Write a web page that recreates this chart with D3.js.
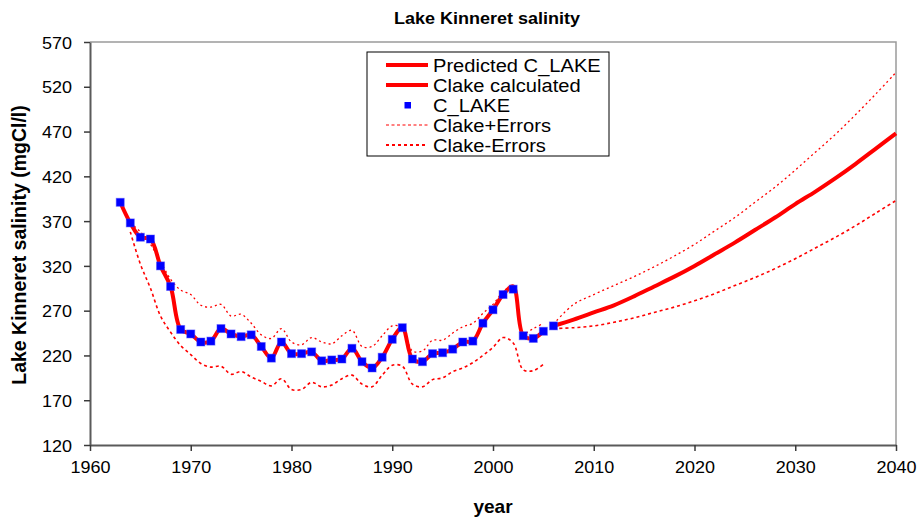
<!DOCTYPE html>
<html>
<head>
<meta charset="utf-8">
<script src="https://cdn.jsdelivr.net/npm/d3@7"></script>
<style>
  body { margin: 0; background: #fff; }
  text { font-family: "Liberation Sans", Arial, sans-serif; fill: #000; }
</style>
</head>
<body>
<svg id="chart" width="922" height="517"></svg>
<script>
// ---- data ----
// measured lake salinity (mgCl/l), 1963-2006
const obsYears = d3.range(1963, 2007);
const cLake = [391, 368, 352, 350, 320, 297, 249, 244, 235, 236,
               250, 244, 241, 243, 230, 217, 235, 222, 222, 224,
               214, 215, 216, 228, 213, 206, 218, 238, 251, 216,
               213, 222, 223, 227, 235, 236, 256, 271, 288, 294,
               242, 239, 247, 253];

// model-calculated salinity, 1963-2005
const calcYears = d3.range(1963, 2006);
const clakeCalc = [391, 368, 352, 350, 320, 297, 249, 244, 235, 236,
                   250, 244, 241, 243, 230, 217, 235, 222, 222, 224,
                   214, 215, 216, 228, 213, 206, 218, 238, 251, 216,
                   213, 222, 223, 227, 235, 236, 256, 271, 288, 297,
                   242, 239, 247];

// error envelope of the calculation, 1964-2005
const errYears = d3.range(1964, 2006);
const clakePlus = [368, 358, 344, 325, 305, 293, 288, 276, 274, 277,
                   264, 266, 256, 243, 239, 250, 235, 232, 240, 235,
                   233, 242, 248, 230, 230, 242, 253, 251, 225, 225,
                   237, 237, 245, 252, 256, 267, 277, 291, 297, 245,
                   250, 256];
const clakeMinus = [358, 322, 295, 264, 246, 231, 221, 211, 207, 208,
                    199, 202, 196, 191, 186, 194, 182, 182, 190, 185,
                    187, 194, 198, 188, 185, 198, 209, 208, 188, 185,
                    193, 195, 202, 206, 212, 220, 229, 240, 234, 204,
                    203, 210];

// prediction 2006-2040 with its error envelope
const predYears = d3.range(2006, 2041, 2);
const predicted = [253, 260, 268, 276, 286, 297, 308, 320, 333, 346,
                   360, 374, 389, 403, 418, 434, 451, 468];
const predPlus  = [255, 277, 288, 298, 308, 319, 331, 344, 359, 374,
                   391, 408, 427, 447, 467, 489, 512, 536];
const predMinus = [250, 251, 253, 257, 262, 268, 274, 281, 289, 298,
                   307, 317, 328, 340, 352, 365, 379, 393];

const yTicks = [120, 170, 220, 270, 320, 370, 420, 470, 520, 570];
const xTicks = [1960, 1970, 1980, 1990, 2000, 2010, 2020, 2030, 2040];

const legendItems = [
  { label: "Predicted C_LAKE", kind: "thick" },
  { label: "Clake calculated", kind: "thick" },
  { label: "C_LAKE", kind: "marker" },
  { label: "Clake+Errors", kind: "plus" },
  { label: "Clake-Errors", kind: "minus" }
];

// ---- layout ----
const SX = 1.06;            // slight horizontal glyph stretch
const RED = "#ff0000", BLUE = "#0000ff";
const svg = d3.select("#chart");
const plot = { left: 90, right: 896, top: 42, bottom: 445 };

const x = d3.scaleLinear().domain([1960, 2040]).range([plot.left, plot.right]);
const y = d3.scaleLinear().domain([120, 570]).range([plot.bottom, plot.top]);

const pts = (xs, vs) => xs.map((t, i) => [t, vs[i]]);
const line = d3.line().x(d => x(d[0])).y(d => y(d[1])).curve(d3.curveCatmullRom.alpha(0.5));

// plot frame (top & right)
svg.append("path")
  .attr("d", `M${plot.left},${plot.top}H${plot.right}V${plot.bottom}`)
  .attr("fill", "none").attr("stroke", "#9a9a9a").attr("stroke-width", 1.5);

// axes
const yAxis = svg.append("g")
  .attr("transform", `translate(${plot.left},0)`)
  .call(d3.axisLeft(y).tickValues(yTicks).tickSize(6).tickSizeOuter(0).tickFormat(d3.format("d")));
const xAxis = svg.append("g")
  .attr("transform", `translate(0,${plot.bottom})`)
  .call(d3.axisBottom(x).tickValues(xTicks).tickSize(6).tickSizeOuter(0).tickFormat(d3.format("d")));

[yAxis, xAxis].forEach(g => {
  g.select(".domain").attr("stroke", "#5a5a5a").attr("stroke-width", 2);
  g.selectAll(".tick line").attr("stroke", "#3a3a3a").attr("stroke-width", 1.5);
  g.selectAll(".tick text")
    .attr("font-family", "Liberation Sans, Arial, sans-serif")
    .attr("font-size", 17).attr("fill", "#000");
});
yAxis.selectAll(".tick text").attr("x", -18 / SX).attr("dy", "0.36em")
  .attr("transform", `scale(${SX},1)`);
xAxis.selectAll(".tick text").attr("y", 16).attr("transform", `scale(${SX},1)`);

// error envelope lines
const plusStyle = s => s.attr("fill", "none").attr("stroke", RED)
  .attr("stroke-width", 1.3).attr("stroke-dasharray", "2,3");
const minusStyle = s => s.attr("fill", "none").attr("stroke", RED)
  .attr("stroke-width", 1.6).attr("stroke-dasharray", "3,3");

svg.append("path").attr("d", line(pts(errYears, clakePlus))).call(plusStyle);
svg.append("path").attr("d", line(pts(errYears, clakeMinus))).call(minusStyle);
svg.append("path").attr("d", line(pts(predYears, predPlus))).call(plusStyle);
svg.append("path").attr("d", line(pts(predYears, predMinus))).call(minusStyle);

// calculated and predicted salinity
svg.append("path").attr("d", line(pts(calcYears, clakeCalc)))
  .attr("fill", "none").attr("stroke", RED).attr("stroke-width", 4).attr("stroke-linejoin", "round");
svg.append("path").attr("d", line(pts(predYears, predicted)))
  .attr("fill", "none").attr("stroke", RED).attr("stroke-width", 4).attr("stroke-linejoin", "round");

// measured points
const M = 8;
svg.append("g").selectAll("rect").data(pts(obsYears, cLake)).join("rect")
  .attr("x", d => x(d[0]) - M / 2).attr("y", d => y(d[1]) - M / 2)
  .attr("width", M).attr("height", M)
  .attr("fill", BLUE).attr("stroke", "rgba(60,60,255,0.45)").attr("stroke-width", 1);

// title
svg.append("text")
  .attr("transform", `translate(487,24) scale(${SX},1)`)
  .attr("text-anchor", "middle").attr("font-weight", "bold").attr("font-size", 17)
  .text("Lake Kinneret salinity");

// axis titles
svg.append("text")
  .attr("transform", `translate(493,513) scale(${SX},1)`)
  .attr("text-anchor", "middle").attr("font-weight", "bold").attr("font-size", 18)
  .text("year");
svg.append("text")
  .attr("transform", `translate(26,245) rotate(-90)`)
  .attr("text-anchor", "middle").attr("font-weight", "bold").attr("font-size", 19.5)
  .text("Lake Kinneret salinity (mgCl/l)");

// legend
const lg = svg.append("g");
lg.append("rect").attr("x", 367).attr("y", 52).attr("width", 242).attr("height", 104)
  .attr("fill", "#fff").attr("stroke", "#000").attr("stroke-width", 1);
legendItems.forEach((it, i) => {
  const cy = 65 + i * 20;
  if (it.kind === "thick") {
    lg.append("line").attr("x1", 386).attr("x2", 428).attr("y1", cy).attr("y2", cy)
      .attr("stroke", RED).attr("stroke-width", 4);
  } else if (it.kind === "marker") {
    lg.append("rect").attr("x", 404.5).attr("y", cy - 3).attr("width", 6.5).attr("height", 6.5)
      .attr("fill", BLUE);
  } else if (it.kind === "plus") {
    lg.append("line").attr("x1", 386).attr("x2", 428).attr("y1", cy).attr("y2", cy)
      .attr("stroke", RED).attr("stroke-width", 1).attr("stroke-dasharray", "3,2.5");
  } else {
    lg.append("line").attr("x1", 386).attr("x2", 428).attr("y1", cy).attr("y2", cy)
      .attr("stroke", RED).attr("stroke-width", 2).attr("stroke-dasharray", "3,3");
  }
  lg.append("text")
    .attr("transform", `translate(433,${cy + 6.5}) scale(${SX},1)`)
    .attr("font-size", 19).text(it.label);
});
</script>
</body>
</html>
